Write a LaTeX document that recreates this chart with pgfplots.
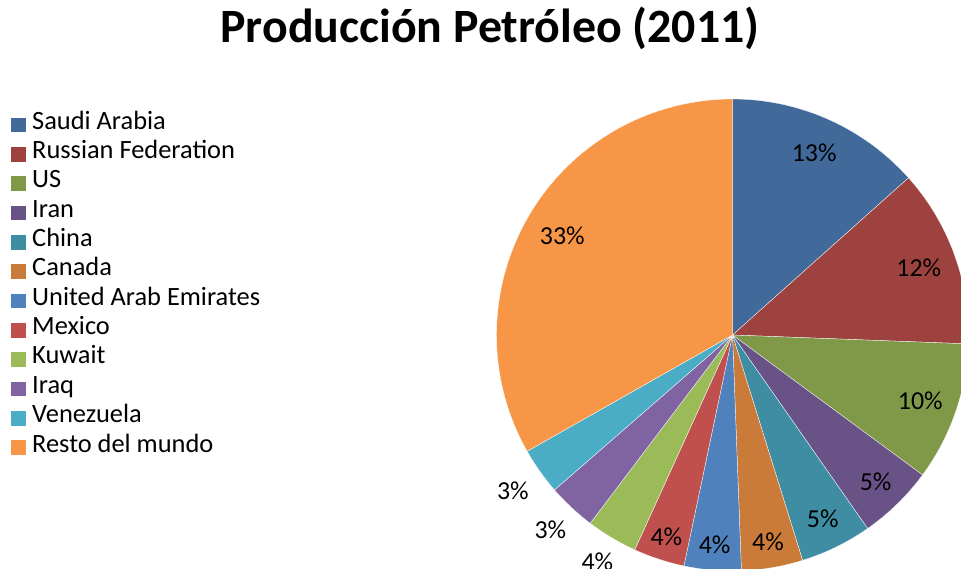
\documentclass[border=0pt]{standalone}
\usepackage{fontspec}
\setmainfont{Carlito}
\usepackage{pgfplots}
\usepackage{pgfplotstable}
\pgfplotsset{compat=1.18}

% Excel palette: darker shades for the first six, plain accents after
\definecolor{c1}{RGB}{65,106,155}
\definecolor{c2}{RGB}{157,66,63}
\definecolor{c3}{RGB}{127,153,73}
\definecolor{c4}{RGB}{105,82,133}
\definecolor{c5}{RGB}{62,141,163}
\definecolor{c6}{RGB}{203,123,57}
\definecolor{c7}{RGB}{79,129,189}
\definecolor{c8}{RGB}{192,80,77}
\definecolor{c9}{RGB}{155,187,89}
\definecolor{c10}{RGB}{128,100,162}
\definecolor{c11}{RGB}{75,172,198}
\definecolor{c12}{RGB}{247,150,70}

% share of world output (%), printed label, label radius (bp), colour index
\pgfplotstableread{
cx    cy  v     lab lr  k
732.5 234 13.4  13  200 1
732.5 234 12.2  12  198 2
732.5 234 9.5   10  199 3
732.5 234 5.2   5   205 4
732.5 234 4.9   5   205 5
732.5 234 4.2   4   210 6
732.5 234 3.9   4   211 7
732.5 234 3.5   4   212 8
732.5 234 3.5   4   264 9
732.5 234 3.3   3   267 10
732.5 234 3.2   3   269 11
732.5 234 33.2  33  197 12
}\piedata
\pgfplotstablecreatecol[create col/expr accum={\pgfmathaccuma + \thisrow{v}}{0}]{cum}\piedata
\pgfplotstablecreatecol[create col/expr={90-3.6*(\thisrow{cum}-\thisrow{v})}]{a0}\piedata
\pgfplotstablecreatecol[create col/expr={90-3.6*\thisrow{cum}}]{a1}\piedata

\begin{document}
\begin{tikzpicture}
\begin{axis}[
  scale only axis,
  width=961bp, height=569bp,
  xmin=0, xmax=961, ymin=0, ymax=569,
  hide axis,
  clip marker paths=true,
  clip bounding box=upper bound,
  legend image code/.code={\fill[#1, draw=none] (0bp,-7.3bp) rectangle (14.5bp,7.3bp);},
  legend cell align=left,
  legend style={
    at={(axis cs:11,459)}, anchor=north west,
    draw=none, fill=none, inner sep=0pt,
    font=\fontsize{26.5}{30}\selectfont,
    row sep=0pt,
    nodes={inner sep=0pt, text height=19bp, text depth=10.35bp},
    /tikz/every odd column/.append style={column sep=6.5bp},
  },
]
% full canvas, so the page is the whole 961 x 569 frame
\path (axis cs:0,0) rectangle (axis cs:961,569);

\addplot[
  forget plot,
  scatter, only marks, mark=*, mark size=0pt,
  mark options={draw=none, fill=none},
  visualization depends on={\thisrow{a0}\as\aS},
  visualization depends on={\thisrow{a1}\as\aE},
  visualization depends on={\thisrow{lr}\as\lr},
  visualization depends on={\thisrow{lab}\as\lab},
  visualization depends on={\thisrow{k}\as\kk},
  scatter/@pre marker code/.code={%
    \pgfmathtruncatemacro\ki{\kk}%
    \pgfmathtruncatemacro\li{\lab}%
    \fill[c\ki, draw=white, line width=0.3bp]
      (0,0) -- (\aS:236bp) arc[start angle=\aS, end angle=\aE, radius=236bp] -- cycle;
    \pgfmathsetmacro\mid{(\aS+\aE)/2}
    \node[font=\fontsize{26}{30}\selectfont, inner sep=0pt] at (\mid:\lr bp) {\li\%};
  },
  scatter/@post marker code/.code={},
] table[x=cx, y=cy] {\piedata};

\addlegendimage{fill=c1}
\addlegendimage{fill=c2}
\addlegendimage{fill=c3}
\addlegendimage{fill=c4}
\addlegendimage{fill=c5}
\addlegendimage{fill=c6}
\addlegendimage{fill=c7}
\addlegendimage{fill=c8}
\addlegendimage{fill=c9}
\addlegendimage{fill=c10}
\addlegendimage{fill=c11}
\addlegendimage{fill=c12}
\legend{Saudi Arabia, Russian Federation, US, Iran, China, Canada,
  United Arab Emirates, Mexico, Kuwait, Iraq, Venezuela, Resto del mundo}

\node[anchor=base, font=\fontsize{48}{50}\selectfont\bfseries]
  at (axis cs:490,526) {Producción Petróleo (2011)};
\end{axis}
\end{tikzpicture}
\end{document}
